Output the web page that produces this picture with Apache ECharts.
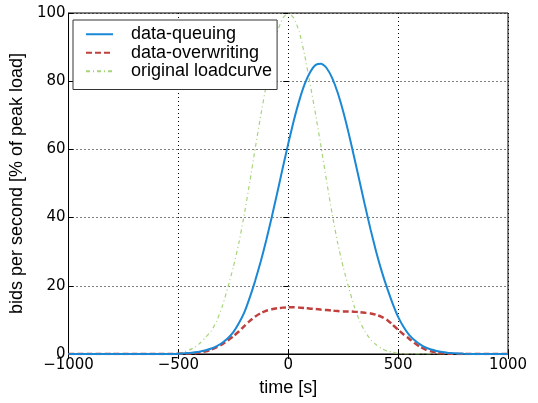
<!DOCTYPE html>
<html>
<head>
<meta charset="utf-8">
<script src="https://cdn.jsdelivr.net/npm/echarts@6/dist/echarts.min.js"></script>
<style>
  html, body { margin: 0; padding: 0; background: #fff; }
  #chart { width: 538px; height: 403px; }
</style>
</head>
<body>
<div id="chart"></div>
<script>
// time axis [s]
const times = [-1000, -900, -800, -700, -600, -550,
  -500, -475, -450, -425, -400, -375, -350, -325, -300, -275,
  -250, -225, -200, -175, -150, -125, -100, -75, -50, -25,
  0, 25, 50, 75, 100, 125, 150, 175, 200, 225,
  250, 275, 300, 325, 350, 375, 400, 425, 450, 475,
  500, 525, 550, 575, 600, 625, 650, 675, 700, 725,
  750, 775, 800, 850, 900, 950, 1000];

const queuing = [0, 0, 0, 0, 0, 0,
  0.1, 0.2, 0.3, 0.5, 0.75, 1.1, 1.6, 2.3, 3.3, 4.6,
  6.4, 9.0, 12.2, 16.6, 21.6, 27.2, 33.4, 40.2, 47.3, 54.6,
  61.7, 68.4, 74.3, 79.2, 82.7, 84.8, 85.1, 83.8, 80.9, 76.6,
  71.1, 64.7, 57.7, 50.5, 43.3, 36.4, 30.0, 24.3, 19.3, 14.8,
  10.9, 7.9, 5.6, 4.0, 2.8, 1.9, 1.3, 0.9, 0.6, 0.4,
  0.25, 0.15, 0.08, 0, 0, 0, 0];

const overwriting = [0, 0, 0, 0, 0, 0,
  0.05, 0.1, 0.15, 0.25, 0.45, 0.8, 1.3, 2.0, 2.9, 4.0,
  5.2, 6.6, 8.2, 9.7, 11.0, 12.0, 12.7, 13.1, 13.4, 13.6,
  13.7, 13.7, 13.6, 13.5, 13.3, 13.2, 13.0, 12.9, 12.7, 12.6,
  12.5, 12.5, 12.4, 12.3, 12.1, 11.9, 11.5, 10.9, 10.0, 8.6,
  7.1, 5.7, 4.5, 3.2, 2.1, 1.3, 0.8, 0.45, 0.2, 0.1,
  0.05, 0, 0, 0, 0, 0, 0];

const loadcurve = [0, 0, 0, 0, 0, 0,
  0.2, 0.6, 1.2, 2.0, 3.3, 5.0, 6.8, 9.8, 14, 19.5,
  25.5, 32.5, 41, 50.5, 60.5, 70, 79, 87.5, 94.5, 98.5,
  100, 98.5, 94.5, 87.5, 79, 70, 60.5, 50.5, 41, 32.5,
  25.5, 19.5, 14, 9.6, 6.5, 4.2, 2.7, 1.6, 0.9, 0.5,
  0.2, 0, 0, 0, 0, 0, 0, 0, 0, 0,
  0, 0, 0, 0, 0, 0, 0];

const xTicks = [-1000, -500, 0, 500, 1000];
const yTicks = [0, 20, 40, 60, 80, 100];

const textFont = "'Liberation Sans', Arial, sans-serif";
const tickFont = "'DejaVu Sans', sans-serif";

function pairs(ys) {
  return times.map((t, i) => [t, ys[i]]);
}

const gridLine = { show: true, lineStyle: { color: "#000", width: 1, type: [1, 3] } };
const tickIn = { show: true, inside: true, length: 5, lineStyle: { color: "#000" } };

const chart = echarts.init(document.getElementById("chart"), null, { renderer: "canvas" });

const option = {
  animation: false,
  backgroundColor: "#fff",
  grid: {
    left: 65, right: 30, top: 13, bottom: 49,
    show: true, borderColor: "#000", borderWidth: 1, backgroundColor: "#fff"
  },
  legend: {
    orient: "vertical",
    left: 73, top: 20,
    padding: [5, 5, 9, 12],
    itemWidth: 27, itemHeight: 14, itemGap: 0,
    borderColor: "#333", borderWidth: 1, backgroundColor: "#fff",
    itemStyle: { opacity: 0 },
    textStyle: {
      fontSize: 18, color: "#000", fontFamily: textFont,
      lineHeight: 9.5, padding: [9, 0, 0, 13]
    },
    data: ["data-queuing", "data-overwriting", "original loadcurve"]
  },
  xAxis: [{
    type: "value",
    min: xTicks[0], max: xTicks[xTicks.length - 1], interval: 500,
    name: "time [s]", nameLocation: "middle", nameGap: 25,
    nameTextStyle: { fontSize: 18, color: "#000", fontFamily: textFont },
    axisLine: { show: true, onZero: false, lineStyle: { color: "#000" } },
    axisTick: tickIn,
    axisLabel: {
      fontSize: 15, color: "#000", margin: 4, fontFamily: tickFont,
      formatter: v => String(v).replace("-", "\u2212")
    },
    splitLine: gridLine
  }, {
    type: "value", position: "top",
    min: xTicks[0], max: xTicks[xTicks.length - 1], interval: 500,
    axisLine: { show: false }, axisTick: tickIn,
    axisLabel: { show: false }, splitLine: { show: false }
  }],
  yAxis: [{
    type: "value",
    min: yTicks[0], max: yTicks[yTicks.length - 1], interval: 20,
    name: "bids per second [% of peak load]", nameLocation: "middle", nameGap: 32,
    nameTextStyle: { fontSize: 18, color: "#000", fontFamily: textFont },
    axisLine: { show: true, onZero: false, lineStyle: { color: "#000" } },
    axisTick: tickIn,
    axisLabel: { fontSize: 15, color: "#000", margin: 3, fontFamily: tickFont },
    splitLine: gridLine
  }, {
    type: "value", position: "right",
    min: yTicks[0], max: yTicks[yTicks.length - 1], interval: 20,
    axisLine: { show: false }, axisTick: tickIn,
    axisLabel: { show: false }, splitLine: { show: false }
  }],
  series: [
    {
      name: "data-queuing", type: "line", showSymbol: false, symbol: "none",
      data: pairs(queuing), smooth: 0.2,
      itemStyle: { color: "#1a88d4" },
      lineStyle: { color: "#1a88d4", width: 2 }, z: 4
    },
    {
      name: "data-overwriting", type: "line", showSymbol: false, symbol: "none",
      data: pairs(overwriting), smooth: 0.2,
      itemStyle: { color: "#c0403e" },
      lineStyle: { color: "#c0403e", width: 2.5, type: [6, 3] }, z: 3
    },
    {
      name: "original loadcurve", type: "line", showSymbol: false, symbol: "none",
      data: pairs(loadcurve), smooth: 0.2,
      itemStyle: { color: "#a6d47a" },
      lineStyle: { color: "#a6d47a", width: 1.2, type: [4, 3, 1, 3] }, z: 2
    }
  ]
};

chart.setOption(option);
</script>
</body>
</html>
